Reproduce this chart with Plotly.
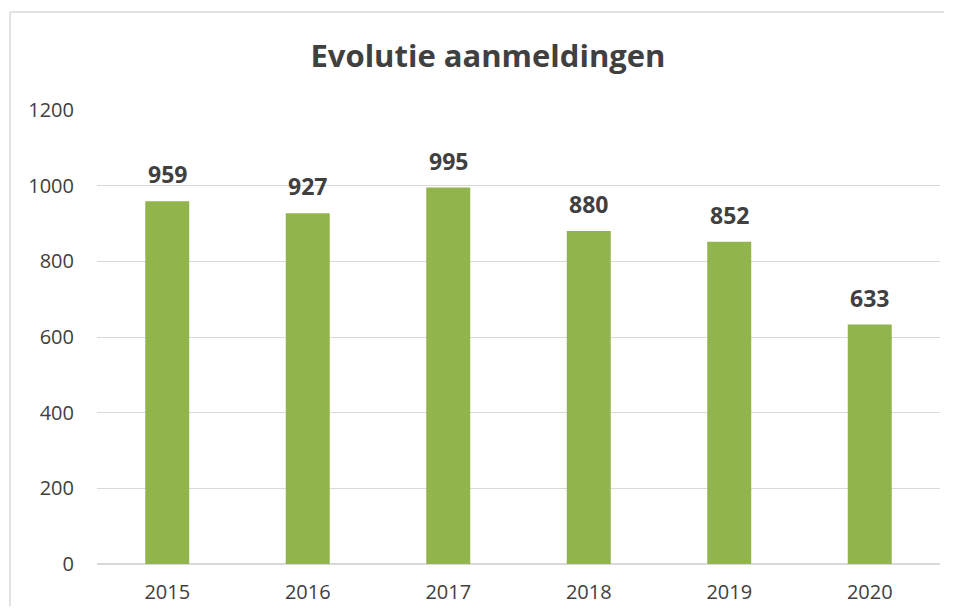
import plotly.graph_objects as go

years = ["2015", "2016", "2017", "2018", "2019", "2020"]
aanmeldingen = [959, 927, 995, 880, 852, 633]
y_ticks = [0, 200, 400, 600, 800, 1000, 1200]

fig = go.Figure()
fig.add_trace(go.Bar(
    x=years, y=aanmeldingen,
    marker=dict(color="#92b44c", line=dict(width=0)),
    cliponaxis=False,
))

for i, v in enumerate(aanmeldingen):
    fig.add_annotation(x=i, y=v, text=f"<b>{v}</b>", showarrow=False,
                       yanchor="middle", yshift=27,
                       font=dict(family="Open Sans", size=23, color="#404040"))

border = dict(color="#d9d9d9", width=1.5)
fig.update_layout(
    width=936, height=598,
    margin=dict(l=89, r=4, t=102, b=42, autoexpand=False),
    paper_bgcolor="white", plot_bgcolor="white",
    bargap=0.687,
    showlegend=False,
    title=dict(text="<b>Evolutie aanmeldingen</b>", xref="paper", x=0.4638,
               xanchor="center", y=1 - 48 / 598, yanchor="middle",
               font=dict(family="Open Sans", size=31, color="#404040")),
    xaxis=dict(type="category", range=[-0.5, 5.5], showgrid=False, showline=False,
               ticks="", ticklabelstandoff=14, automargin=False,
               tickfont=dict(family="Open Sans", size=20, color="#404040")),
    yaxis=dict(range=[0, 1200], tickvals=y_ticks, showgrid=True, gridcolor="#d9d9d9",
               gridwidth=1.3, zeroline=True, zerolinecolor="#d9d9d9", zerolinewidth=1.5,
               showline=False, ticks="", ticklabelstandoff=22, automargin=False,
               tickfont=dict(family="Open Sans", size=20, color="#404040")),
    shapes=[
        dict(type="line", xref="paper", yref="paper", x0=-0.1032, x1=1.2,
             y0=1.2159, y1=1.2159, line=border, layer="below"),
        dict(type="line", xref="paper", yref="paper", x0=-0.1032, x1=-0.1032,
             y0=-0.2, y1=1.2159, line=border, layer="below"),
    ],
)

fig.write_html("out.html")
